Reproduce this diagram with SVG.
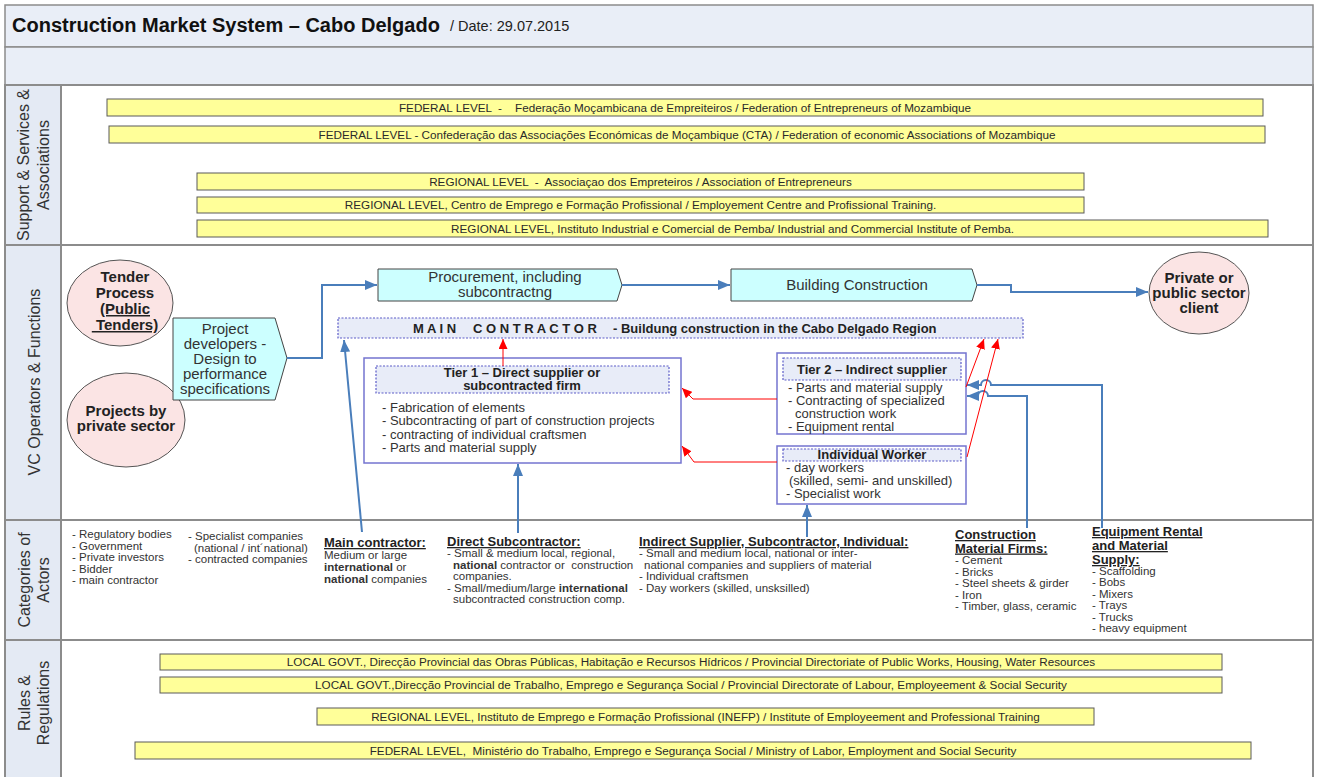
<svg xmlns="http://www.w3.org/2000/svg" width="1317" height="777" viewBox="0 0 1317 777">
<defs>
<style>
text{font-family:"Liberation Sans",Arial,sans-serif;}
.lane{fill:#fff;stroke:#8c8c8c;stroke-width:2}
.lab{fill:#e4eaf4;stroke:#8c8c8c;stroke-width:2}
.band{fill:#e9eef7;stroke:#8c8c8c;stroke-width:1.5}
.lt{font-size:16px;fill:#333;text-anchor:middle}
.bar{fill:#ffff99;stroke:#5a5a5a;stroke-width:1}
.bt{font-size:11.7px;fill:#2a2a2a;text-anchor:middle}
.pink{fill:#fbe4e4;stroke:#555;stroke-width:1}
.cyan{fill:#ccffff;stroke:#444;stroke-width:1}
.box{fill:#fff;stroke:#7474d0;stroke-width:1.5}
.hdr{fill:#e8ecf8;stroke:#5c5cc8;stroke-width:1.2;stroke-dasharray:2 1.5}
.et{font-size:15px;font-weight:bold;fill:#222;text-anchor:middle}
.pt{font-size:15px;fill:#333;text-anchor:middle}
.ht{font-size:13px;font-weight:bold;fill:#222;text-anchor:middle}
.mc{font-size:13px;font-weight:bold;fill:#222}
.bl{font-size:13px;fill:#333}
.ct{font-size:11.5px;fill:#333}
.ch{font-size:13px;font-weight:bold;fill:#222;text-decoration:underline}
.blue{fill:none;stroke:#4a7ebb;stroke-width:2}
.red{fill:none;stroke:#ff0000;stroke-width:1}
</style>
<marker id="ab" markerUnits="userSpaceOnUse" markerWidth="12" markerHeight="10" refX="12" refY="5" orient="auto"><path d="M0,0 L12,5 L0,10 z" fill="#4a7ebb"/></marker>
<marker id="ar" markerUnits="userSpaceOnUse" markerWidth="10" markerHeight="9" refX="10" refY="4.5" orient="auto"><path d="M0,0 L10,4.5 L0,9 z" fill="#ff0000"/></marker>
</defs>

<g id="frame">
<rect x="5" y="5" width="1308" height="42" class="band"/>
<rect x="5" y="47" width="1308" height="38" class="band"/>
<text x="12" y="32" font-size="20" font-weight="bold" fill="#111">Construction Market System – Cabo Delgado</text>
<text x="450" y="31" font-size="14.5" fill="#222">/ Date: 29.07.2015</text>
<rect x="5" y="85" width="1308" height="160" class="lane"/>
<rect x="5" y="245" width="1308" height="275" class="lane"/>
<rect x="5" y="520" width="1308" height="120" class="lane"/>
<rect x="5" y="640" width="1308" height="140" class="lane"/>
<rect x="5" y="85" width="56" height="160" class="lab"/>
<rect x="5" y="245" width="56" height="275" class="lab"/>
<rect x="5" y="520" width="56" height="120" class="lab"/>
<rect x="5" y="640" width="56" height="140" class="lab"/>
<text class="lt" transform="translate(29,165) rotate(-90)">Support &amp; Services &amp;</text>
<text class="lt" transform="translate(49,165) rotate(-90)">Associations</text>
<text class="lt" transform="translate(40,382) rotate(-90)">VC Operators &amp; Functions</text>
<text class="lt" transform="translate(30,580) rotate(-90)">Categories of</text>
<text class="lt" transform="translate(49,580) rotate(-90)">Actors</text>
<text class="lt" transform="translate(30,703) rotate(-90)">Rules &amp;</text>
<text class="lt" transform="translate(49,703) rotate(-90)">Regulations</text>
</g>

<g id="support">
<rect x="107" y="99" width="1156" height="17" class="bar"/>
<text x="685" y="111.5" class="bt" xml:space="preserve">FEDERAL LEVEL  -    Federação Moçambicana de Empreiteiros / Federation of Entrepreneurs of Mozambique</text>
<rect x="109" y="126" width="1156" height="17" class="bar"/>
<text x="687" y="138.5" class="bt">FEDERAL LEVEL - Confederação das Associações Económicas de Moçambique (CTA) / Federation of economic Associations of Mozambique</text>
<rect x="197" y="173" width="887" height="17" class="bar"/>
<text x="640.5" y="185.5" class="bt" xml:space="preserve">REGIONAL LEVEL  -  Associaçao dos Empreteiros / Association of Entrepreneurs</text>
<rect x="197" y="197" width="887" height="16" class="bar"/>
<text x="640.5" y="209" class="bt">REGIONAL LEVEL, Centro de Emprego e Formação Profissional / Employement Centre and Profissional Training.</text>
<rect x="197" y="220" width="1071" height="17" class="bar"/>
<text x="732.5" y="232.5" class="bt">REGIONAL LEVEL, Instituto Industrial e Comercial de Pemba/ Industrial and Commercial Institute of Pemba.</text>
</g>

<g id="tender">
<ellipse cx="120" cy="303" rx="53" ry="43" class="pink"/>
<text x="125" y="282" class="et" font-size="16">Tender</text>
<text x="125" y="298" class="et" font-size="16">Process</text>
<text x="125" y="314" class="et" font-size="16" text-decoration="underline">(Public</text>
<text x="125" y="330" class="et" font-size="16" text-decoration="underline" xml:space="preserve"> Tenders)</text>
</g>
<g id="private-projects">
<ellipse cx="126" cy="420" rx="59" ry="47" class="pink"/>
<text x="126" y="416" class="et">Projects by</text>
<text x="126" y="431" class="et">private sector</text>
</g>
<g id="project-developers">
<path d="M173,318 L275,318 L287,358 L275,400 L173,400 Z" class="cyan"/>
<text x="225" y="334" class="pt">Project</text>
<text x="225" y="349" class="pt">developers -</text>
<text x="225" y="364" class="pt">Design to</text>
<text x="225" y="379" class="pt">performance</text>
<text x="225" y="394" class="pt">specifications</text>
</g>
<g id="procurement">
<path d="M378,269 L617,269 L622,285 L617,301 L378,301 Z" class="cyan"/>
<text x="505" y="282" class="pt">Procurement, including</text>
<text x="505" y="297" class="pt">subcontractng</text>
</g>
<g id="building">
<path d="M731,269 L972,269 L977,285 L972,301 L731,301 Z" class="cyan"/>
<text x="857" y="290" class="pt">Building Construction</text>
</g>
<g id="client">
<ellipse cx="1199" cy="293" rx="50" ry="41" class="pink"/>
<text x="1199" y="283" class="et">Private or</text>
<text x="1199" y="298" class="et">public sector</text>
<text x="1199" y="313" class="et">client</text>
</g>
<g id="main-contractor">
<rect x="338" y="318" width="685" height="20" class="hdr"/>
<text x="413" y="332.5" class="mc">M A I N</text>
<text x="473" y="332.5" class="mc">C O N T R A C T O R</text>
<text x="613" y="332.5" class="mc">- Buildung construction in the Cabo Delgado Region</text>
</g>
<g id="tier1">
<rect x="364" y="358" width="317" height="105" class="box"/>
<rect x="376" y="366" width="293" height="27" class="hdr"/>
<text x="522" y="377" class="ht">Tier 1 – Direct supplier or</text>
<text x="522" y="390" class="ht">subcontracted firm</text>
<text x="382" y="411.5" class="bl">- Fabrication of elements</text>
<text x="382" y="425" class="bl">- Subcontracting of part of construction projects</text>
<text x="382" y="438.5" class="bl">- contracting of individual craftsmen</text>
<text x="382" y="452" class="bl">- Parts and material supply</text>
</g>
<g id="tier2">
<rect x="777" y="353" width="189" height="81" class="box"/>
<rect x="783" y="358" width="178" height="22" class="hdr"/>
<text x="872" y="373.5" class="ht">Tier 2 – Indirect supplier</text>
<text x="788" y="391.5" class="bl">- Parts and material supply</text>
<text x="788" y="404.5" class="bl">- Contracting of specialized</text>
<text x="795" y="417.5" class="bl">construction work</text>
<text x="788" y="431" class="bl">- Equipment rental</text>
</g>
<g id="individual-worker">
<rect x="777" y="446" width="189" height="58" class="box"/>
<rect x="783" y="449" width="178" height="12" class="hdr"/>
<text x="872" y="459" class="ht">Individual Worker</text>
<text x="786" y="471.5" class="bl">- day workers</text>
<text x="789" y="484.5" class="bl">(skilled, semi- and unskilled)</text>
<text x="786" y="497.5" class="bl">- Specialist work</text>
</g>

<g id="actors">
<text class="ct"><tspan x="72" y="538">- Regulatory bodies</tspan><tspan x="72" y="549.5">- Government</tspan><tspan x="72" y="561">- Private investors</tspan><tspan x="72" y="572.5">- Bidder</tspan><tspan x="72" y="584">- main contractor</tspan></text>
<text class="ct"><tspan x="188" y="540">- Specialist companies</tspan><tspan x="194" y="551.5">(national / int´national)</tspan><tspan x="188" y="563">- contracted companies</tspan></text>
<text x="324" y="547" class="ch">Main contractor:</text>
<text class="ct"><tspan x="324" y="559">Medium or large</tspan><tspan x="324" y="571"><tspan font-weight="bold">international</tspan> or</tspan><tspan x="324" y="583"><tspan font-weight="bold">national</tspan> companies</tspan></text>
<text x="447" y="546" class="ch">Direct Subcontractor:</text>
<text class="ct" xml:space="preserve"><tspan x="447" y="557">- Small &amp; medium local, regional,</tspan><tspan x="453" y="568.5"><tspan font-weight="bold">national</tspan> contractor or  construction</tspan><tspan x="453" y="580">companies.</tspan><tspan x="447" y="591.5">- Small/medium/large <tspan font-weight="bold">international</tspan></tspan><tspan x="453" y="603">subcontracted construction comp.</tspan></text>
<text x="639" y="546" class="ch">Indirect Supplier, Subcontractor, Individual:</text>
<text class="ct"><tspan x="639" y="557">- Small and medium local, national or inter-</tspan><tspan x="644" y="568.5">national companies and suppliers of material</tspan><tspan x="639" y="580">- Individual craftsmen</tspan><tspan x="639" y="591.5">- Day workers (skilled, unsksilled)</tspan></text>
<text class="ch"><tspan x="955" y="539">Construction</tspan><tspan x="955" y="552.5">Material Firms:</tspan></text>
<text class="ct"><tspan x="955" y="564">- Cement</tspan><tspan x="955" y="575.5">- Bricks</tspan><tspan x="955" y="587">- Steel sheets &amp; girder</tspan><tspan x="955" y="598.5">- Iron</tspan><tspan x="955" y="610">- Timber, glass, ceramic</tspan></text>
<text class="ch"><tspan x="1092" y="536">Equipment Rental</tspan><tspan x="1092" y="550">and Material</tspan><tspan x="1092" y="564">Supply:</tspan></text>
<text class="ct"><tspan x="1092" y="574.5">- Scaffolding</tspan><tspan x="1092" y="586">- Bobs</tspan><tspan x="1092" y="597.5">- Mixers</tspan><tspan x="1092" y="609">- Trays</tspan><tspan x="1092" y="620.5">- Trucks</tspan><tspan x="1092" y="632">- heavy equipment</tspan></text>
</g>

<g id="rules">
<rect x="160" y="654" width="1062" height="16" class="bar"/>
<text x="691" y="666" class="bt">LOCAL GOVT., Direcção Provincial das Obras Públicas, Habitação e Recursos Hídricos / Provincial Directoriate of Public Works, Housing, Water Resources</text>
<rect x="160" y="677" width="1062" height="16" class="bar"/>
<text x="691" y="689" class="bt">LOCAL GOVT.,Direcção Provincial de Trabalho, Emprego e Segurança Social / Provincial Directorate of Labour, Employeement &amp; Social Security</text>
<rect x="317" y="708" width="777" height="17" class="bar"/>
<text x="705.5" y="720.5" class="bt">REGIONAL LEVEL, Instituto de Emprego e Formação Profissional (INEFP) / Institute of Employeement and Professional Training</text>
<rect x="135" y="742" width="1116" height="17" class="bar"/>
<text x="693" y="754.5" class="bt" xml:space="preserve">FEDERAL LEVEL,  Ministério do Trabalho, Emprego e Segurança Social / Ministry of Labor, Employment and Social Security</text>
</g>

<g id="connectors">
<path d="M287,358 L322,358 L322,285 L377,285" class="blue" marker-end="url(#ab)"/>
<path d="M622,285 L730,285" class="blue" marker-end="url(#ab)"/>
<path d="M977,285 L1011,285 L1011,292 L1148,292" class="blue" marker-end="url(#ab)"/>
<path d="M362,532 L344,340" class="blue" marker-end="url(#ab)"/>
<path d="M518,533 L518,464" class="blue" marker-end="url(#ab)"/>
<path d="M807,537 L807,505" class="blue" marker-end="url(#ab)"/>
<path d="M1102,528 L1102,385 L991,385 A5,5 0 0 0 981,385 L967,385" class="blue" marker-end="url(#ab)"/>
<path d="M1027,528 L1027,396 L988,396 A5,5 0 0 0 978,396 L967,396" class="blue" marker-end="url(#ab)"/>
<path d="M503,366 L503,339" class="red" marker-end="url(#ar)"/>
<path d="M777,399 L693,399 L682,388" class="red" marker-end="url(#ar)"/>
<path d="M777,462 L694,462 L682,446" class="red" marker-end="url(#ar)"/>
<path d="M966,387 L984,339" class="red" marker-end="url(#ar)"/>
<path d="M967,457 L998,339" class="red" marker-end="url(#ar)"/>
</g>
</svg>
